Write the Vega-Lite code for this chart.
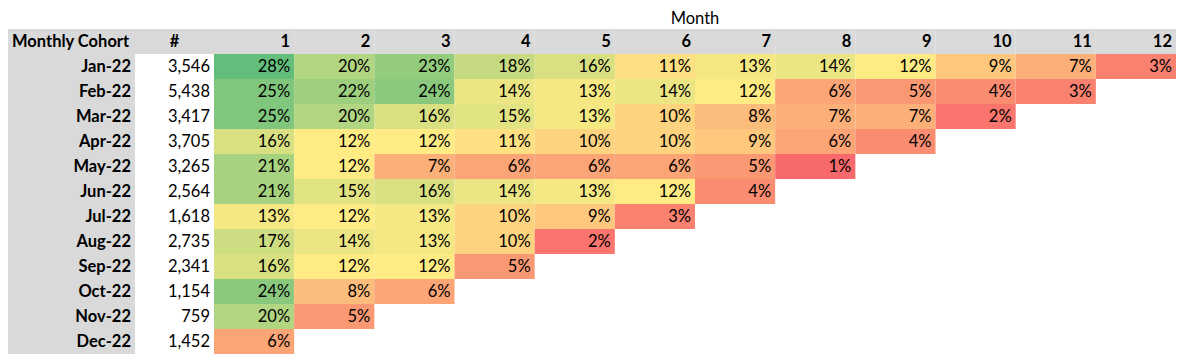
{
  "$schema": "https://vega.github.io/schema/vega-lite/v6.json",
  "padding": {"left": 8, "top": 4, "right": 0, "bottom": 0},
  "background": "white",
  "spacing": 0,
  "config": {
    "view": {"stroke": null},
    "concat": {"spacing": 0},
    "text": {"font": "Lato", "fontSize": 16.5, "color": "#000000"}
  },
  "datasets": {
    "headers": [
      {"col": "cohort", "label": "Monthly Cohort"},
      {"col": "n", "label": "#"},
      {"col": "month", "label": "Month"}
    ],
    "cohorts": [
      {"cohort": "Jan-22", "n": 3546},
      {"cohort": "Feb-22", "n": 5438},
      {"cohort": "Mar-22", "n": 3417},
      {"cohort": "Apr-22", "n": 3705},
      {"cohort": "May-22", "n": 3265},
      {"cohort": "Jun-22", "n": 2564},
      {"cohort": "Jul-22", "n": 1618},
      {"cohort": "Aug-22", "n": 2735},
      {"cohort": "Sep-22", "n": 2341},
      {"cohort": "Oct-22", "n": 1154},
      {"cohort": "Nov-22", "n": 759},
      {"cohort": "Dec-22", "n": 1452}
    ],
    "cells": [
      {"cohort": "Jan-22", "month": 1, "pct": 0.28},
      {"cohort": "Jan-22", "month": 2, "pct": 0.20},
      {"cohort": "Jan-22", "month": 3, "pct": 0.23},
      {"cohort": "Jan-22", "month": 4, "pct": 0.18},
      {"cohort": "Jan-22", "month": 5, "pct": 0.16},
      {"cohort": "Jan-22", "month": 6, "pct": 0.11},
      {"cohort": "Jan-22", "month": 7, "pct": 0.13},
      {"cohort": "Jan-22", "month": 8, "pct": 0.14},
      {"cohort": "Jan-22", "month": 9, "pct": 0.12},
      {"cohort": "Jan-22", "month": 10, "pct": 0.09},
      {"cohort": "Jan-22", "month": 11, "pct": 0.07},
      {"cohort": "Jan-22", "month": 12, "pct": 0.03},
      {"cohort": "Feb-22", "month": 1, "pct": 0.25},
      {"cohort": "Feb-22", "month": 2, "pct": 0.22},
      {"cohort": "Feb-22", "month": 3, "pct": 0.24},
      {"cohort": "Feb-22", "month": 4, "pct": 0.14},
      {"cohort": "Feb-22", "month": 5, "pct": 0.13},
      {"cohort": "Feb-22", "month": 6, "pct": 0.14},
      {"cohort": "Feb-22", "month": 7, "pct": 0.12},
      {"cohort": "Feb-22", "month": 8, "pct": 0.06},
      {"cohort": "Feb-22", "month": 9, "pct": 0.05},
      {"cohort": "Feb-22", "month": 10, "pct": 0.04},
      {"cohort": "Feb-22", "month": 11, "pct": 0.03},
      {"cohort": "Mar-22", "month": 1, "pct": 0.25},
      {"cohort": "Mar-22", "month": 2, "pct": 0.20},
      {"cohort": "Mar-22", "month": 3, "pct": 0.16},
      {"cohort": "Mar-22", "month": 4, "pct": 0.15},
      {"cohort": "Mar-22", "month": 5, "pct": 0.13},
      {"cohort": "Mar-22", "month": 6, "pct": 0.10},
      {"cohort": "Mar-22", "month": 7, "pct": 0.08},
      {"cohort": "Mar-22", "month": 8, "pct": 0.07},
      {"cohort": "Mar-22", "month": 9, "pct": 0.07},
      {"cohort": "Mar-22", "month": 10, "pct": 0.02},
      {"cohort": "Apr-22", "month": 1, "pct": 0.16},
      {"cohort": "Apr-22", "month": 2, "pct": 0.12},
      {"cohort": "Apr-22", "month": 3, "pct": 0.12},
      {"cohort": "Apr-22", "month": 4, "pct": 0.11},
      {"cohort": "Apr-22", "month": 5, "pct": 0.10},
      {"cohort": "Apr-22", "month": 6, "pct": 0.10},
      {"cohort": "Apr-22", "month": 7, "pct": 0.09},
      {"cohort": "Apr-22", "month": 8, "pct": 0.06},
      {"cohort": "Apr-22", "month": 9, "pct": 0.04},
      {"cohort": "May-22", "month": 1, "pct": 0.21},
      {"cohort": "May-22", "month": 2, "pct": 0.12},
      {"cohort": "May-22", "month": 3, "pct": 0.07},
      {"cohort": "May-22", "month": 4, "pct": 0.06},
      {"cohort": "May-22", "month": 5, "pct": 0.06},
      {"cohort": "May-22", "month": 6, "pct": 0.06},
      {"cohort": "May-22", "month": 7, "pct": 0.05},
      {"cohort": "May-22", "month": 8, "pct": 0.01},
      {"cohort": "Jun-22", "month": 1, "pct": 0.21},
      {"cohort": "Jun-22", "month": 2, "pct": 0.15},
      {"cohort": "Jun-22", "month": 3, "pct": 0.16},
      {"cohort": "Jun-22", "month": 4, "pct": 0.14},
      {"cohort": "Jun-22", "month": 5, "pct": 0.13},
      {"cohort": "Jun-22", "month": 6, "pct": 0.12},
      {"cohort": "Jun-22", "month": 7, "pct": 0.04},
      {"cohort": "Jul-22", "month": 1, "pct": 0.13},
      {"cohort": "Jul-22", "month": 2, "pct": 0.12},
      {"cohort": "Jul-22", "month": 3, "pct": 0.13},
      {"cohort": "Jul-22", "month": 4, "pct": 0.10},
      {"cohort": "Jul-22", "month": 5, "pct": 0.09},
      {"cohort": "Jul-22", "month": 6, "pct": 0.03},
      {"cohort": "Aug-22", "month": 1, "pct": 0.17},
      {"cohort": "Aug-22", "month": 2, "pct": 0.14},
      {"cohort": "Aug-22", "month": 3, "pct": 0.13},
      {"cohort": "Aug-22", "month": 4, "pct": 0.10},
      {"cohort": "Aug-22", "month": 5, "pct": 0.02},
      {"cohort": "Sep-22", "month": 1, "pct": 0.16},
      {"cohort": "Sep-22", "month": 2, "pct": 0.12},
      {"cohort": "Sep-22", "month": 3, "pct": 0.12},
      {"cohort": "Sep-22", "month": 4, "pct": 0.05},
      {"cohort": "Oct-22", "month": 1, "pct": 0.24},
      {"cohort": "Oct-22", "month": 2, "pct": 0.08},
      {"cohort": "Oct-22", "month": 3, "pct": 0.06},
      {"cohort": "Nov-22", "month": 1, "pct": 0.20},
      {"cohort": "Nov-22", "month": 2, "pct": 0.05},
      {"cohort": "Dec-22", "month": 1, "pct": 0.06}
    ]
  },
  "hconcat": [
    {
      "width": 127,
      "height": 350,
      "layer": [
        {
          "data": {"name": "cohorts"},
          "mark": {"type": "rect", "fill": "#D9D9D9"},
          "encoding": {
            "x": {"datum": "c", "type": "nominal", "scale": {"domain": ["c"], "paddingInner": 0, "paddingOuter": 0}, "axis": null},
            "y": {"field": "cohort", "type": "ordinal", "scale": {"domain": ["title", "header", "Jan-22", "Feb-22", "Mar-22", "Apr-22", "May-22", "Jun-22", "Jul-22", "Aug-22", "Sep-22", "Oct-22", "Nov-22", "Dec-22"], "paddingInner": 0, "paddingOuter": 0}, "axis": null}
          }
        },
        {
          "data": {"name": "headers"},
          "transform": [{"filter": "datum.col === 'cohort'"}],
          "mark": {"type": "rect", "fill": "#D9D9D9"},
          "encoding": {
            "x": {"datum": "c", "type": "nominal"},
            "y": {"datum": "header", "type": "ordinal"}
          }
        },
        {
          "data": {"name": "headers"},
          "transform": [{"filter": "datum.col === 'cohort'"}],
          "mark": {"type": "text", "align": "left", "baseline": "middle", "dx": 4, "fontWeight": "bold"},
          "encoding": {
            "x": {"datum": "c", "type": "nominal", "bandPosition": 0},
            "y": {"datum": "header", "type": "ordinal"},
            "text": {"field": "label"}
          }
        },
        {
          "data": {"name": "cohorts"},
          "mark": {"type": "text", "align": "right", "baseline": "middle", "dx": -4, "fontWeight": "bold"},
          "encoding": {
            "x": {"datum": "c", "type": "nominal", "bandPosition": 1},
            "y": {"field": "cohort", "type": "ordinal"},
            "text": {"field": "cohort"}
          }
        }
      ]
    },
    {
      "width": 79,
      "height": 350,
      "layer": [
        {
          "data": {"name": "headers"},
          "transform": [{"filter": "datum.col === 'n'"}],
          "mark": {"type": "rect", "fill": "#D9D9D9"},
          "encoding": {
            "x": {"datum": "n", "type": "nominal", "scale": {"domain": ["n"], "paddingInner": 0, "paddingOuter": 0}, "axis": null},
            "y": {"datum": "header", "type": "ordinal", "scale": {"domain": ["title", "header", "Jan-22", "Feb-22", "Mar-22", "Apr-22", "May-22", "Jun-22", "Jul-22", "Aug-22", "Sep-22", "Oct-22", "Nov-22", "Dec-22"], "paddingInner": 0, "paddingOuter": 0}, "axis": null}
          }
        },
        {
          "data": {"name": "headers"},
          "transform": [{"filter": "datum.col === 'n'"}],
          "mark": {"type": "text", "align": "center", "baseline": "middle", "fontWeight": "bold"},
          "encoding": {
            "x": {"datum": "n", "type": "nominal", "bandPosition": 0.5},
            "y": {"datum": "header", "type": "ordinal"},
            "text": {"field": "label"}
          }
        },
        {
          "data": {"name": "cohorts"},
          "mark": {"type": "text", "align": "right", "baseline": "middle", "dx": -4},
          "encoding": {
            "x": {"datum": "n", "type": "nominal", "bandPosition": 1},
            "y": {"field": "cohort", "type": "ordinal"},
            "text": {"field": "n", "type": "quantitative", "format": ","}
          }
        }
      ]
    },
    {
      "width": 962,
      "height": 350,
      "layer": [
        {
          "data": {"name": "cells"},
          "transform": [{"filter": "datum.cohort === 'Jan-22'"}],
          "mark": {"type": "rect", "fill": "#D9D9D9"},
          "encoding": {
            "x": {"field": "month", "type": "ordinal", "scale": {"domain": [1, 2, 3, 4, 5, 6, 7, 8, 9, 10, 11, 12], "paddingInner": 0, "paddingOuter": 0}, "axis": null},
            "y": {"datum": "header", "type": "ordinal", "scale": {"domain": ["title", "header", "Jan-22", "Feb-22", "Mar-22", "Apr-22", "May-22", "Jun-22", "Jul-22", "Aug-22", "Sep-22", "Oct-22", "Nov-22", "Dec-22"], "paddingInner": 0, "paddingOuter": 0}, "axis": null}
          }
        },
        {
          "data": {"name": "cells"},
          "transform": [{"filter": "datum.cohort === 'Jan-22'"}],
          "mark": {"type": "text", "align": "right", "baseline": "middle", "dx": -4, "fontWeight": "bold"},
          "encoding": {
            "x": {"field": "month", "type": "ordinal", "bandPosition": 1},
            "y": {"datum": "header", "type": "ordinal"},
            "text": {"field": "month"}
          }
        },
        {
          "data": {"name": "cells"},
          "mark": {"type": "rect", "strokeWidth": 0},
          "encoding": {
            "x": {"field": "month", "type": "ordinal"},
            "y": {"field": "cohort", "type": "ordinal"},
            "fill": {"field": "pct", "type": "quantitative", "scale": {"type": "linear", "domain": [0.01, 0.12, 0.28], "range": ["#F8696B", "#FFEB84", "#63BE7B"], "interpolate": "rgb"}, "legend": null}
          }
        },
        {
          "data": {"name": "cells"},
          "mark": {"type": "text", "align": "right", "baseline": "middle", "dx": -4},
          "encoding": {
            "x": {"field": "month", "type": "ordinal", "bandPosition": 1},
            "y": {"field": "cohort", "type": "ordinal"},
            "text": {"field": "pct", "type": "quantitative", "format": ".0%"}
          }
        },
        {
          "data": {"name": "headers"},
          "transform": [{"filter": "datum.col === 'month'"}],
          "mark": {"type": "text", "align": "center", "baseline": "middle", "dy": 2},
          "encoding": {
            "x": {"datum": 6, "type": "ordinal", "bandPosition": 1},
            "y": {"datum": "title", "type": "ordinal"},
            "text": {"field": "label"}
          }
        }
      ]
    }
  ]
}
